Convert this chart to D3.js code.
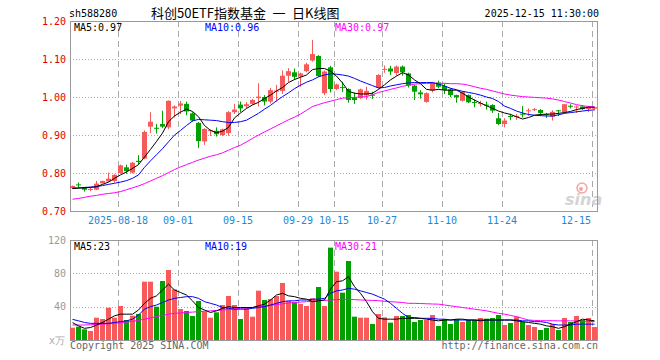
<!DOCTYPE html>
<html><head><meta charset="utf-8">
<script src="https://cdn.jsdelivr.net/npm/d3@7/dist/d3.min.js"></script>
<style>body{margin:0;background:#fff;} svg{display:block;} text{white-space:pre;}</style>
</head><body><svg id="c" width="660" height="360"></svg>
<script>
const dates = ["08-06","08-07","08-08","08-11","08-12","08-13","08-14","08-15","08-18","08-19",
"08-20","08-21","08-22","08-25","08-26","08-27","08-28","08-29","09-01","09-02",
"09-03","09-04","09-05","09-08","09-09","09-10","09-11","09-12","09-15","09-16",
"09-17","09-18","09-19","09-22","09-23","09-24","09-25","09-26","09-29","09-30",
"10-09","10-10","10-13","10-14","10-15","10-16","10-17","10-20","10-21","10-22",
"10-23","10-24","10-27","10-28","10-29","10-30","10-31","11-03","11-04","11-05",
"11-06","11-07","11-10","11-11","11-12","11-13","11-14","11-17","11-18","11-19",
"11-20","11-21","11-24","11-25","11-26","11-27","11-28","12-01","12-02","12-03",
"12-04","12-05","12-08","12-09","12-10","12-11","12-12","12-15"];
const open = [0.760,0.770,0.762,0.756,0.756,0.773,0.778,0.779,0.800,0.815,
0.801,0.832,0.838,0.922,0.919,0.929,0.920,0.970,0.977,0.982,
0.957,0.932,0.883,0.911,0.911,0.900,0.905,0.960,0.980,0.976,
0.982,0.997,1.000,0.988,1.014,1.016,1.056,1.065,1.054,1.068,
1.096,1.108,1.010,1.078,1.021,1.026,1.021,0.999,0.997,1.004,
1.006,1.025,1.072,1.075,1.063,1.080,1.062,1.030,1.012,0.987,
1.017,1.038,1.029,1.020,1.005,0.990,1.005,0.987,0.982,0.980,
0.979,0.944,0.929,0.950,0.948,0.956,0.963,0.966,0.966,0.955,
0.948,0.965,0.960,0.977,0.973,0.975,0.968,0.969];
const high = [0.767,0.775,0.763,0.762,0.779,0.780,0.801,0.797,0.822,0.822,
0.829,0.847,0.912,0.960,0.929,0.964,0.991,0.978,0.990,0.988,
0.960,0.934,0.918,0.915,0.920,0.917,0.963,0.982,0.988,0.987,
0.995,1.036,1.005,1.024,1.032,1.070,1.076,1.075,1.064,1.090,
1.150,1.110,1.070,1.082,1.035,1.040,1.023,1.012,1.022,1.027,
1.014,1.060,1.083,1.082,1.083,1.083,1.064,1.032,1.018,1.012,
1.040,1.043,1.036,1.023,1.006,1.015,1.007,0.994,0.990,0.988,
0.981,0.958,0.944,0.956,0.955,0.976,0.970,0.971,0.968,0.958,
0.965,0.966,0.982,0.981,0.978,0.978,0.977,0.975];
const low = [0.758,0.761,0.751,0.752,0.755,0.772,0.776,0.775,0.798,0.798,
0.799,0.822,0.836,0.905,0.904,0.918,0.915,0.946,0.955,0.952,
0.935,0.866,0.874,0.897,0.896,0.897,0.898,0.955,0.960,0.970,
0.979,0.975,0.978,0.983,0.988,1.008,1.040,1.045,1.027,1.065,
1.093,1.053,1.005,1.012,1.018,1.013,0.985,0.982,0.995,0.993,
0.995,1.022,1.064,1.058,1.056,1.056,1.025,0.992,0.996,0.985,
1.012,1.023,1.008,1.000,0.985,0.988,0.984,0.973,0.975,0.967,
0.958,0.926,0.920,0.939,0.940,0.946,0.950,0.963,0.950,0.945,
0.938,0.950,0.958,0.970,0.958,0.966,0.960,0.965];
const close = [0.766,0.768,0.756,0.758,0.772,0.779,0.785,0.795,0.820,0.805,
0.827,0.829,0.908,0.935,0.917,0.922,0.990,0.975,0.983,0.962,
0.938,0.884,0.916,0.913,0.902,0.915,0.960,0.967,0.970,0.981,
0.992,1.001,0.988,1.018,1.017,1.056,1.068,1.053,1.062,1.086,
1.113,1.055,1.067,1.021,1.033,1.024,0.992,0.992,1.020,1.016,
1.004,1.058,1.074,1.067,1.080,1.065,1.030,1.014,1.007,1.010,
1.038,1.027,1.018,1.005,0.999,1.013,0.986,0.985,0.984,0.978,
0.964,0.929,0.938,0.948,0.950,0.955,0.965,0.968,0.958,0.954,
0.961,0.964,0.981,0.976,0.975,0.968,0.975,0.973];
const volume = [14.8,16,12.8,10.8,26.8,25.2,38.8,26.8,40.8,24,
29.2,31.2,70,70,40,70.8,84,60.8,37.2,34.8,
28.8,46.8,34,26.8,33.2,42,52.8,42,25.2,39.2,
28,59.2,48,49.2,52.8,68.4,46.8,45.2,43.2,40.8,
50,63.6,40.8,110.8,82,56.8,94.8,28,26.8,26.8,
19.2,31.2,27.2,20.8,28.8,28.8,30,21.6,24,24,
30,16.8,24.8,19.2,24.8,21.6,24,24,26.4,25.6,
26.4,30,18,20.4,28,21.6,18,15.6,12,14.4,
19.2,12,26.4,21.6,28.8,24,26.4,15.6];
const ma5 = [0.759,0.760,0.761,0.762,0.764,0.770,0.776,0.786,0.795,0.803,
0.812,0.822,0.842,0.862,0.883,0.905,0.935,0.950,0.960,0.968,
0.962,0.948,0.925,0.912,0.906,0.910,0.920,0.945,0.958,0.970,
0.979,0.986,0.996,1.005,1.016,1.025,1.038,1.046,1.052,1.058,
1.072,1.075,1.075,1.068,1.055,1.037,1.015,1.010,1.008,1.008,
1.010,1.020,1.032,1.045,1.055,1.064,1.058,1.045,1.035,1.020,
1.018,1.020,1.018,1.018,1.018,1.010,1.000,0.992,0.984,0.977,
0.970,0.963,0.958,0.954,0.948,0.942,0.946,0.952,0.954,0.955,
0.955,0.957,0.959,0.962,0.967,0.970,0.973,0.973];
const ma10 = [0.760,0.761,0.762,0.763,0.764,0.767,0.770,0.773,0.776,0.780,
0.786,0.795,0.815,0.832,0.848,0.864,0.882,0.900,0.912,0.925,
0.937,0.941,0.940,0.939,0.938,0.935,0.933,0.933,0.935,0.939,
0.948,0.957,0.968,0.978,0.990,1.001,1.011,1.022,1.031,1.039,
1.045,1.053,1.058,1.061,1.060,1.058,1.055,1.049,1.042,1.036,
1.030,1.024,1.025,1.029,1.032,1.035,1.037,1.038,1.038,1.038,
1.038,1.034,1.029,1.023,1.019,1.015,1.012,1.009,1.005,1.000,
0.996,0.988,0.976,0.970,0.963,0.958,0.954,0.952,0.951,0.950,
0.950,0.953,0.957,0.959,0.961,0.963,0.965,0.966];
const ma30 = [0.731,0.733,0.736,0.739,0.741,0.744,0.746,0.748,0.751,0.756,
0.761,0.766,0.772,0.779,0.786,0.793,0.801,0.809,0.816,0.822,
0.828,0.834,0.839,0.844,0.848,0.853,0.860,0.867,0.873,0.882,
0.891,0.900,0.908,0.916,0.924,0.932,0.940,0.947,0.955,0.965,
0.975,0.980,0.985,0.989,0.993,0.997,0.998,0.999,1.000,1.001,
1.006,1.012,1.016,1.020,1.024,1.028,1.031,1.034,1.035,1.036,
1.036,1.036,1.036,1.035,1.035,1.034,1.031,1.027,1.023,1.020,
1.016,1.012,1.008,1.005,1.003,1.001,1.000,0.999,0.998,0.997,
0.995,0.992,0.988,0.984,0.980,0.977,0.975,0.974];
const vma5 = [20.8,17,14,15,18,21,25,29,31,31,
31,36,44,50,53,60,67,60,57,54,
47,39,36,33,35,38,40,39,39,39,
39,41,43,48,54,56,53,52,50,49,
46,47,48,61,70,71,76,64,56,46,
34,26,25,25,25,26,26,26,26,25,
24,23,24,24,25,25,24,24,23,24,
24,24,24,24,23,22,21,20,19,17,
16,14,16,19,22,25,24,23];
const vma10 = [24.8,23,21,20,20,20,20,21,22,23,
25,30,37,40,42,45,48,50,51,52,
52,50,46,44,42,39,38,37,37,37,
38,39,40,42,44,46,47,47,48,48,
49,49,50,56,59,60,62,61,59,57,
55,52,49,44,38,32,27,27,26,26,
26,25,25,24,24,24,24,24,24,24,
24,24,24,24,24,23,23,22,22,21,
19,18,18,18,19,19,19,19];
const vma30 = [18,18,18,18.3,18.7,19,19.5,20,20.7,21.5,
22.5,23.5,25,26.5,28,29.5,31,32,32.5,33,
33.5,34,34.5,35,35.5,36,36.5,37,38,38.5,
39,40,40.5,41.5,42.5,43.5,44.5,45,45.5,46,
46.5,47,47.5,48,48.5,48.8,48.8,48.5,48,47.8,
47.5,47.2,46.5,46,45.5,45,44,44,43.8,43.5,
43.2,43,42,41,40,39,38,37,36,35,
33.5,32,31,29.5,28,26,24,23.5,23.2,23.2,
23.2,23,23,23,22.8,22.5,22.3,22];
const priceTicks = [0.70,0.80,0.90,1.00,1.10,1.20];
const volTicks = [40,80,120];
const dateTicks = ["08-18","09-01","09-15","09-29","10-15","10-27","11-10","11-24","12-15"];
const dateTickLabels = ["2025-08-18","09-01","09-15","09-29","10-15","10-27","11-10","11-24","12-15"];

const svg = d3.select("#c");
const MONO = "'DejaVu Sans Mono', monospace";
const UP = "#f65a5a", DOWN = "#00a000";
const L = 70, R = 598;
const x = d3.scaleBand().domain(dates).range([L, R]).padding(0);
const bw = x.bandwidth();
const yP = d3.scaleLinear().domain([0.70, 1.20]).range([211, 21]);
const yV = d3.scaleLinear().domain([0, 120]).range([340, 240]);
const idx = d3.range(dates.length);
const isUp = i => close[i] >= open[i];
const trunc2 = v => (Math.floor(v * 100 + 1e-6) / 100).toFixed(2);

// header
svg.append("text").attr("x", 69).attr("y", 17).attr("font-family", MONO).attr("font-size", 10).attr("fill", "#000").text("sh588280");
svg.append("text").attr("x", 151).attr("y", 18).attr("font-family", "'Noto Sans CJK SC', sans-serif").attr("font-size", 13).attr("fill", "#000").text("科创50ETF指数基金\u2002一\u2002日K线图");
svg.append("text").attr("x", 599).attr("y", 17).attr("text-anchor", "end").attr("font-family", MONO).attr("font-size", 10).attr("fill", "#000").text("2025-12-15 11:30:00");

function panel(y0, y1) {
  const g = svg.append("g");
  g.selectAll("line.v").data(dateTicks).join("line")
    .attr("x1", d => Math.round(x(d)) + 0.5).attr("x2", d => Math.round(x(d)) + 0.5)
    .attr("y1", y0).attr("y2", y1).attr("stroke", "#aaa").attr("stroke-dasharray", "6,4");
  return g;
}
const gp = panel(21, 211);
gp.selectAll("line.h").data(priceTicks.slice(1, 5)).join("line")
  .attr("x1", L).attr("x2", R).attr("y1", d => Math.round(yP(d)) + 0.5).attr("y2", d => Math.round(yP(d)) + 0.5)
  .attr("stroke", "#aaa").attr("stroke-dasharray", "1,2");
const gv = panel(240, 340);
gv.selectAll("line.h").data(volTicks.slice(0, 2)).join("line")
  .attr("x1", L).attr("x2", R).attr("y1", d => Math.round(yV(d)) + 0.5).attr("y2", d => Math.round(yV(d)) + 0.5)
  .attr("stroke", "#aaa").attr("stroke-dasharray", "1,2");

// sina watermark
const wm = svg.append("g");
wm.append("circle").attr("cx", 582).attr("cy", 188).attr("r", 5).attr("fill", "none").attr("stroke", "#f3a5a5").attr("stroke-width", 1.5);
wm.append("circle").attr("cx", 581).attr("cy", 189).attr("r", 2).attr("fill", "#f3a5a5");
wm.append("text").attr("x", 565).attr("y", 205).attr("font-family", "'DejaVu Sans', sans-serif").attr("font-style", "italic").attr("font-weight", "bold").attr("font-size", 16).attr("fill", "#d4d4d4").text("sina");

// frames
svg.append("rect").attr("x", L + 0.5).attr("y", 21.5).attr("width", R - L - 1).attr("height", 190).attr("fill", "none").attr("stroke", "#999");
svg.append("rect").attr("x", L + 0.5).attr("y", 240.5).attr("width", R - L - 1).attr("height", 100).attr("fill", "none").attr("stroke", "#999");

// price axis labels
svg.selectAll("text.pt").data(priceTicks).join("text")
  .attr("x", 66).attr("y", d => yP(d)).attr("dy", "0.35em").attr("text-anchor", "end")
  .attr("font-family", MONO).attr("font-size", 10).attr("fill", "#e00000").text(d => d.toFixed(2));
// date labels (last one kept inside the frame)
svg.selectAll("text.dt").data(dateTicks).join("text")
  .attr("x", d => Math.min(x(d), R - 7 - 15)).attr("y", 224).attr("text-anchor", "middle")
  .attr("font-family", MONO).attr("font-size", 10).attr("fill", "#1a8ad4").text((d, i) => dateTickLabels[i]);
// volume axis labels
svg.selectAll("text.vt").data(volTicks).join("text")
  .attr("x", 66).attr("y", d => yV(d)).attr("dy", "0.35em").attr("text-anchor", "end")
  .attr("font-family", MONO).attr("font-size", 10).attr("fill", "#999").text(d => d);
svg.append("text").attr("x", 49).attr("y", 344).attr("font-family", MONO).attr("font-size", 10).attr("fill", "#aaa").text("x万");

// candles
const gc = svg.append("g");
idx.forEach(i => {
  const xs = x(dates[i]);
  const col = isUp(i) ? UP : DOWN;
  gc.append("line").attr("x1", xs + 2.5).attr("x2", xs + 2.5)
    .attr("y1", yP(high[i])).attr("y2", yP(low[i])).attr("stroke", col);
  const top = yP(Math.max(open[i], close[i])), bot = yP(Math.min(open[i], close[i]));
  gc.append("rect").attr("x", xs).attr("width", bw - 1)
    .attr("y", top).attr("height", Math.max(1, bot - top)).attr("fill", col);
});
const lineP = arr => d3.line().x((d, i) => x(dates[i]) + 2.5).y(d => yP(d))(arr);
[[ma30, "#ff00ff"], [ma10, "#0000ff"], [ma5, "#000"]].forEach(([a, c]) =>
  svg.append("path").attr("d", lineP(a)).attr("fill", "none").attr("stroke", c).attr("stroke-width", 1));

// volume bars
svg.append("g").selectAll("rect").data(idx).join("rect")
  .attr("x", i => x(dates[i])).attr("width", bw - 1)
  .attr("y", i => yV(volume[i])).attr("height", i => 340 - yV(volume[i]))
  .attr("fill", i => isUp(i) ? UP : DOWN);
const lineV = arr => d3.line().x((d, i) => x(dates[i]) + 2.5).y(d => yV(d))(arr);
[[vma30, "#ff00ff"], [vma10, "#0000ff"], [vma5, "#000"]].forEach(([a, c]) =>
  svg.append("path").attr("d", lineV(a)).attr("fill", "none").attr("stroke", c).attr("stroke-width", 1));

// legends
const leg = (yy, items) => items.forEach(([tx, c, xx]) =>
  svg.append("text").attr("x", xx).attr("y", yy).attr("font-family", MONO).attr("font-size", 10).attr("fill", c).text(tx));
const n = dates.length - 1;
leg(31, [["MA5:" + trunc2(ma5[n]), "#000", 74], ["MA10:" + trunc2(ma10[n]), "#0000ff", 205], ["MA30:" + trunc2(ma30[n]), "#ff00ff", 335]]);
leg(250, [["MA5:" + Math.round(vma5[n]), "#000", 74], ["MA10:" + Math.round(vma10[n]), "#0000ff", 205], ["MA30:21", "#ff00ff", 335]]);

// footer
svg.append("text").attr("x", 70).attr("y", 349).attr("font-family", MONO).attr("font-size", 10).attr("fill", "#666").text("Copyright 2025 SINA.COM");
svg.append("text").attr("x", 598).attr("y", 349).attr("text-anchor", "end").attr("font-family", MONO).attr("font-size", 10).attr("fill", "#666").text("http://finance.sina.com.cn");
</script></body></html>
